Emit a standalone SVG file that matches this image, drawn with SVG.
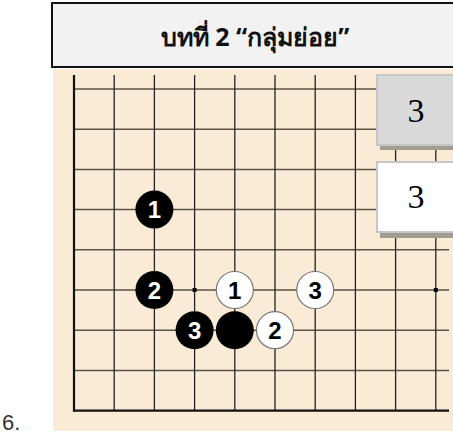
<svg xmlns="http://www.w3.org/2000/svg" width="453" height="437" viewBox="0 0 453 437">
<style>
.v{stroke:#222;stroke-width:1.3}
.h{stroke:#5a5248;stroke-width:1.5}
.b{fill:#000}
.w{fill:#fff;stroke:#777;stroke-width:1.2}
.nb{font-family:"Liberation Sans",Arial,sans-serif;font-weight:bold;font-size:24px;fill:#fff;text-anchor:middle}
.nw{font-family:"Liberation Sans",Arial,sans-serif;font-weight:bold;font-size:24px;fill:#000;text-anchor:middle}
.bx{font-family:"Liberation Serif","Times New Roman",serif;font-size:34px;fill:#000;text-anchor:middle}
</style>
<rect width="453" height="437" fill="#fff"/>
<g id="board">
<rect x="53" y="69" width="400" height="362" fill="#FAEBD7"/>
<g>
<line class="h" x1="74" y1="89" x2="449" y2="89"/>
<line class="h" x1="74" y1="129.2" x2="449" y2="129.2"/>
<line class="h" x1="74" y1="169.4" x2="449" y2="169.4"/>
<line class="h" x1="74" y1="209.6" x2="449" y2="209.6"/>
<line class="h" x1="74" y1="249.8" x2="449" y2="249.8"/>
<line class="h" x1="74" y1="290" x2="449" y2="290"/>
<line class="h" x1="74" y1="330.2" x2="449" y2="330.2"/>
<line class="h" x1="74" y1="370.4" x2="449" y2="370.4"/>
<line class="v" x1="114.2" y1="75" x2="114.2" y2="410.6"/>
<line class="v" x1="154.4" y1="75" x2="154.4" y2="410.6"/>
<line class="v" x1="194.6" y1="75" x2="194.6" y2="410.6"/>
<line class="v" x1="234.8" y1="75" x2="234.8" y2="410.6"/>
<line class="v" x1="275" y1="75" x2="275" y2="410.6"/>
<line class="v" x1="315.2" y1="75" x2="315.2" y2="410.6"/>
<line class="v" x1="355.4" y1="75" x2="355.4" y2="410.6"/>
<line class="v" x1="395.6" y1="75" x2="395.6" y2="410.6"/>
<line class="v" x1="435.8" y1="75" x2="435.8" y2="410.6"/>
<line x1="74" y1="75" x2="74" y2="411.6" stroke="#111" stroke-width="2.2"/>
<line x1="73" y1="410.6" x2="449" y2="410.6" stroke="#111" stroke-width="2.2"/>
<rect x="192.6" y="288" width="4" height="4" fill="#000"/>
<rect x="433.8" y="288" width="4" height="4" fill="#000"/>
</g>
</g>
<g id="header">
<rect x="52" y="3" width="410" height="64" fill="#F2F2F2" stroke="#111" stroke-width="2"/>
<text x="255" y="46" font-family="'Noto Sans','DejaVu Sans',sans-serif" font-weight="bold" font-size="25" text-anchor="middle" fill="#111">บทที่ 2 “กลุ่มย่อย”</text>
</g>
<g id="box-gray">
<rect x="380" y="80" width="80" height="70" fill="#a39c91"/>
<rect x="377" y="75" width="80" height="70" fill="#D9D9D9" stroke="#C6C6C6" stroke-width="2"/>
<text class="bx" x="416" y="122">3</text>
</g>
<g id="box-white">
<rect x="380" y="167" width="80" height="71" fill="#a39c91"/>
<rect x="377" y="162" width="80" height="70" fill="#fff" stroke="#C6C6C6" stroke-width="2"/>
<text class="bx" x="416" y="208">3</text>
</g>
<g id="stone-b1"><circle class="b" cx="154.4" cy="209.6" r="19"/><text class="nb" x="154.4" y="218">1</text></g>
<g id="stone-b2"><circle class="b" cx="154.4" cy="290" r="19"/><text class="nb" x="154.4" y="298.5">2</text></g>
<g id="stone-b3"><circle class="b" cx="194.6" cy="330.2" r="19"/><text class="nb" x="194.6" y="338.7">3</text></g>
<g id="stone-b"><circle class="b" cx="234.8" cy="330.2" r="19"/></g>
<g id="stone-w1"><circle class="w" cx="234.8" cy="290" r="18.5"/><text class="nw" x="234.8" y="298.5">1</text></g>
<g id="stone-w2"><circle class="w" cx="275" cy="330.2" r="18.5"/><text class="nw" x="275" y="338.7">2</text></g>
<g id="stone-w3"><circle class="w" cx="315.2" cy="290" r="18.5"/><text class="nw" x="315.2" y="298.5">3</text></g>
<g id="label"><text x="2" y="430" font-family="'Liberation Sans',Arial,sans-serif" font-size="22" fill="#333">6.</text></g>
</svg>
